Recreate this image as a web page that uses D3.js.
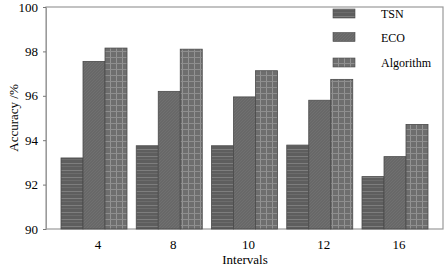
<!DOCTYPE html>
<html><head><meta charset="utf-8">
<script src="https://cdn.jsdelivr.net/npm/d3@7"></script>
<style>body{margin:0;background:#fff}svg{display:block;font-family:"Liberation Serif","Times New Roman",serif}</style>
</head><body><svg id="c" width="447" height="271"></svg>
<script>
const categories = ["4","8","10","12","16"];
const seriesNames = ["TSN","ECO","Algorithm"];
const tsn = [93.2, 93.75, 93.75, 93.78, 92.36];
const eco = [97.55, 96.2, 95.95, 95.8, 93.26];
const algorithm = [98.15, 98.1, 97.13, 96.74, 94.71];
const yTicks = [90, 92, 94, 96, 98, 100];

const svg = d3.select("#c");
const L = 46, R = 443, T = 7, B = 229;
const x = d3.scalePoint().domain(categories).range([L + 48, R - 48]);
const y = d3.scaleLinear().domain([90, 100]).range([B, T]);
const barW = 22;

const defs = svg.append("defs");
const p1 = defs.append("pattern").attr("id","pTSN").attr("patternUnits","userSpaceOnUse").attr("width",8).attr("height",7);
p1.append("rect").attr("width",8).attr("height",7).attr("fill","#5e5e5e");
p1.append("rect").attr("y",2).attr("width",8).attr("height",1).attr("fill","#7e7e7e");
p1.append("rect").attr("y",5).attr("width",8).attr("height",1).attr("fill","#6c6c6c");
const p2 = defs.append("pattern").attr("id","pECO").attr("patternUnits","userSpaceOnUse").attr("width",3).attr("height",3);
p2.append("rect").attr("width",3).attr("height",3).attr("fill","#686868");
p2.append("path").attr("d","M0,3L3,0").attr("stroke","#727272").attr("stroke-width",0.8);
const p3 = defs.append("pattern").attr("id","pALG").attr("patternUnits","userSpaceOnUse").attr("width",6).attr("height",6);
p3.append("rect").attr("width",6).attr("height",6).attr("fill","#6e6e6e");
p3.append("rect").attr("x",2).attr("width",1).attr("height",6).attr("fill","#939393");
p3.append("rect").attr("y",3).attr("width",6).attr("height",1).attr("fill","#8e8e8e");
const fills = ["url(#pTSN)","url(#pECO)","url(#pALG)"];
const series = [tsn, eco, algorithm];

svg.append("rect").attr("x",L).attr("y",T).attr("width",R-L).attr("height",B-T)
  .attr("fill","none").attr("stroke","#9a9a9a").attr("stroke-width",1.2);

series.forEach((vals, si) => {
  svg.append("g").selectAll("rect").data(vals).join("rect")
    .attr("x",(d,i)=> x(categories[i]) - 1.5*barW + si*barW)
    .attr("y",d=>y(d))
    .attr("width",barW)
    .attr("height",d=>B - y(d))
    .attr("fill",fills[si])
    .attr("stroke","#4a4a4a").attr("stroke-width",0.8);
});

const ya = svg.append("g").attr("transform",`translate(${L},0)`)
  .call(d3.axisLeft(y).tickValues(yTicks).tickSize(3).tickPadding(5).tickFormat(d3.format("d")));
ya.select(".domain").attr("stroke","#9a9a9a");
ya.selectAll(".tick line").attr("stroke","#777");
ya.selectAll("text").attr("font-size",13).attr("fill","#000").attr("font-family","Liberation Serif");

svg.append("g").selectAll("text").data(categories).join("text")
  .attr("x",d=>x(d)+4).attr("y",B+20)
  .attr("text-anchor","middle").attr("font-size",13).text(d=>d);

svg.append("text").attr("x",245).attr("y",264).attr("text-anchor","middle").attr("font-size",13).text("Intervals");
svg.append("text").attr("transform","translate(18,118) rotate(-90)").attr("text-anchor","middle").attr("font-size",13).text("Accuracy /%");

const lg = svg.append("g");
const legY = [13.5, 37, 62.5];
seriesNames.forEach((n,i)=>{
  lg.append("rect").attr("x",333).attr("y",legY[i]-4.5).attr("width",22).attr("height",9)
    .attr("fill",fills[i]).attr("stroke","#4a4a4a").attr("stroke-width",0.6);
  lg.append("text").attr("x",381).attr("y",legY[i]+4.5).attr("font-size",12).text(n);
});
</script></body></html>
